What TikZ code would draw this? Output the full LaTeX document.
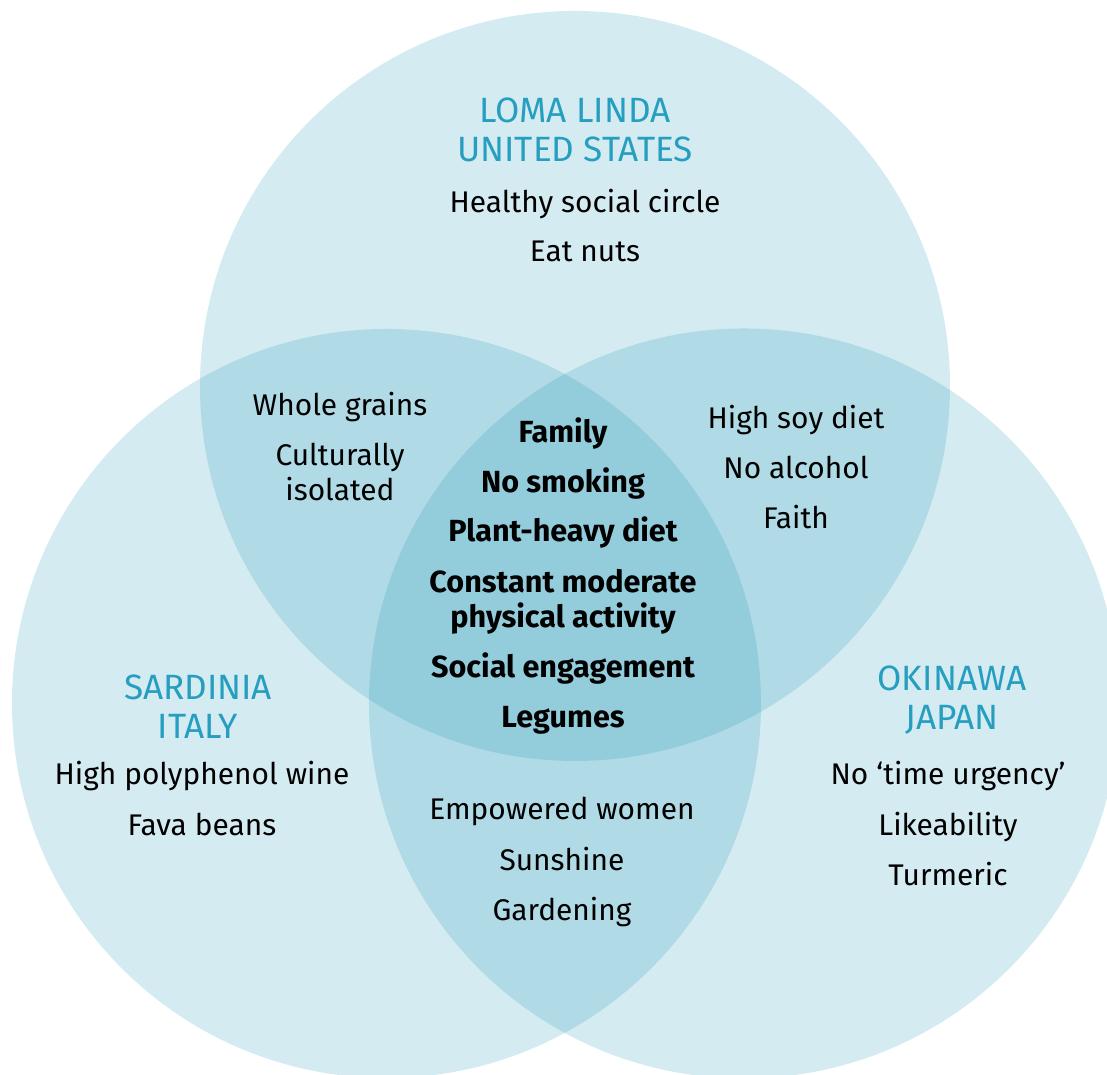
\documentclass[tikz,border=0pt]{standalone}
\usepackage{fontspec}
\setmainfont{Fira Sans}
\definecolor{venn}{RGB}{16,144,177}
\definecolor{place}{RGB}{38,158,192}
\tikzset{
  zone/.style={fill=venn, fill opacity=0.18},
  item/.style={anchor=base, align=center, inner sep=0pt,
    font=\fontsize{8.5}{9.96}\selectfont},
  core/.style={item, font=\fontsize{8.7}{9.96}\selectfont\bfseries},
  place/.style={item, text=place, font=\fontsize{10}{11.1}\selectfont}
}
\begin{document}
\begin{tikzpicture}
    \useasboundingbox (0,0) rectangle (11.07,10.75);
    \clip (0,0) rectangle (11.07,10.75);

    % the three circles
    \fill[zone] (5.75,6.89)  circle (3.75);
    \fill[zone] (3.865,3.715) circle (3.745);
    \fill[zone] (7.44,3.715) circle (3.75);

    % Loma Linda
    \node[place] (lomalinda) at (5.75,9.13) {LOMA LINDA\\UNITED STATES};
    \node[item] (social) at (5.85,8.62) {Healthy social circle};
    \node[item] (nuts) at (5.85,8.13) {Eat nuts};

    % Loma Linda and Sardinia
    \node[item] (grains) at (3.40,6.59) {Whole grains};
    \node[item] (isolated) at (3.40,5.74) {Culturally\\isolated};

    % Loma Linda and Okinawa
    \node[item] (soy) at (7.96,6.46) {High soy diet};
    \node[item] (alcohol) at (7.96,5.96) {No alcohol};
    \node[item] (faith) at (7.96,5.46) {Faith};

    % all three
    \node[core] (family) at (5.63,6.32) {Family};
    \node[core] (smoking) at (5.63,5.82) {No smoking};
    \node[core] (plant) at (5.63,5.33) {Plant-heavy diet};
    \node[core] (activity) at (5.63,4.47) {Constant moderate\\physical activity};
    \node[core] (engage) at (5.63,3.97) {Social engagement};
    \node[core] (legumes) at (5.63,3.47) {Legumes};

    % Sardinia
    \node[place] (sardinia) at (1.98,3.36) {SARDINIA\\ITALY};
    \node[item] (wine) at (2.02,2.90) {High polyphenol wine};
    \node[item] (fava) at (2.02,2.39) {Fava beans};

    % Sardinia and Okinawa
    \node[item] (women) at (5.62,2.55) {Empowered women};
    \node[item] (sun) at (5.62,2.04) {Sunshine};
    \node[item] (garden) at (5.62,1.54) {Gardening};

    % Okinawa
    \node[place] (okinawa) at (9.52,3.45) {OKINAWA\\JAPAN};
    \node[item] (urgency) at (9.48,2.90) {No ‘time urgency’};
    \node[item] (like) at (9.48,2.39) {Likeability};
    \node[item] (turmeric) at (9.48,1.89) {Turmeric};
\end{tikzpicture}
\end{document}
